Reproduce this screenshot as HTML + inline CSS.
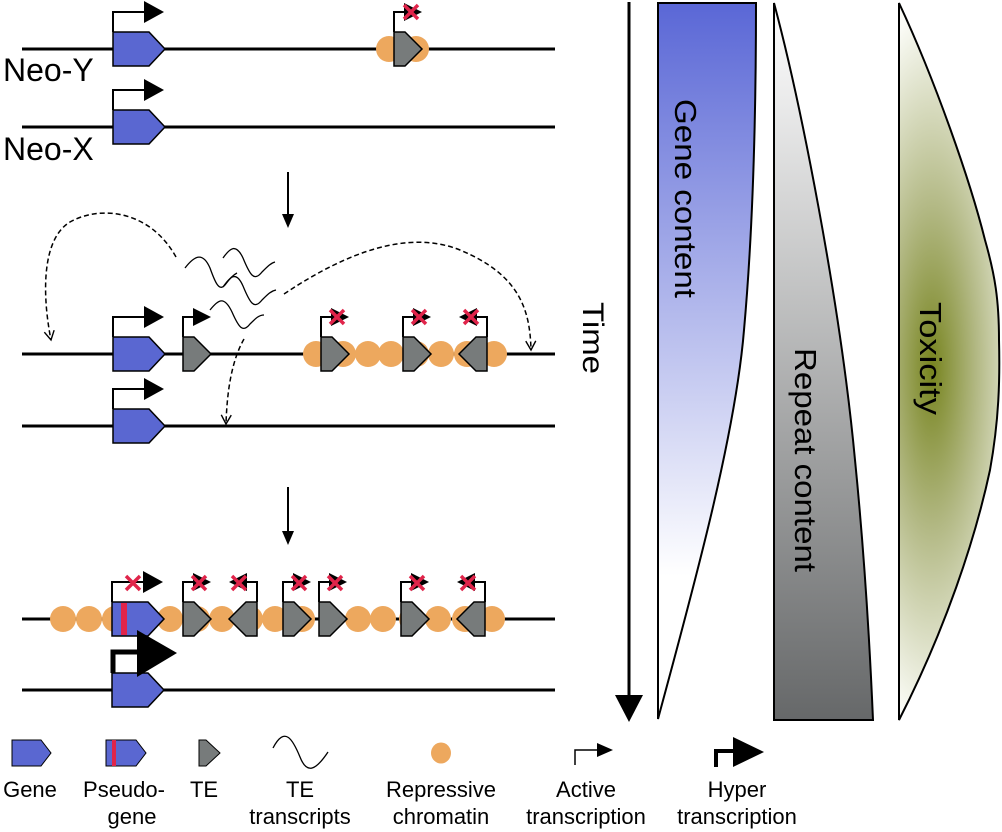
<!DOCTYPE html>
<html><head><meta charset="utf-8"><style>html,body{margin:0;padding:0;background:#fff;}svg{display:block;}text{font-family:"Liberation Sans",sans-serif;}</style></head>
<body>
<svg width="1002" height="832" viewBox="0 0 1002 832" xmlns="http://www.w3.org/2000/svg">
<defs>
<linearGradient id="gb" x1="0" y1="0" x2="0" y2="1"><stop offset="0" stop-color="#5a67d6"/><stop offset="0.8" stop-color="#ffffff"/><stop offset="1" stop-color="#ffffff"/></linearGradient>
<linearGradient id="gr" x1="0" y1="0" x2="0" y2="1"><stop offset="0" stop-color="#ffffff"/><stop offset="1" stop-color="#666869"/></linearGradient>
<radialGradient id="gt" gradientUnits="userSpaceOnUse" cx="932" cy="368" r="100" gradientTransform="translate(932 368) scale(1 3.6) translate(-932 -368)"><stop offset="0" stop-color="#77841f"/><stop offset="0.45" stop-color="#b3b985"/><stop offset="1" stop-color="#fbfcf7"/></radialGradient>
<path id="gene" d="M0,-17 H36 L52,0 L36,17 H0 Z" fill="#5a67d1" stroke="#000" stroke-width="1.5"/>
<path id="te" d="M0,-17 H11 L28,0 L11,17 H0 Z" fill="#777b7b" stroke="#000" stroke-width="1.5"/>
<g id="prom"><path d="M0,-17 V-37 H31" fill="none" stroke="#000" stroke-width="2"/><polygon points="31,-48 51,-37 31,-26" fill="#000"/></g>
<g id="tprom"><path d="M0,-17 V-37 H11" fill="none" stroke="#000" stroke-width="2"/><polygon points="10,-46 28,-37 10,-28" fill="#000"/></g>
<g id="x"><path d="M-7,-7 L7,7 M7,-7 L-7,7" stroke="#e0244a" stroke-width="3.5"/></g>
<circle id="c" r="13" fill="#eda85e"/>
<marker id="ah" markerUnits="userSpaceOnUse" markerWidth="12" markerHeight="12" refX="10" refY="6" orient="auto" viewBox="0 0 12 12"><path d="M1,1 L10,6 L1,11" fill="none" stroke="#000" stroke-width="1.4"/></marker>
</defs>

<!-- Row 1 Neo-Y -->
<line x1="22" y1="49" x2="555" y2="49" stroke="#000" stroke-width="3"/>
<use href="#c" x="389" y="49"/><use href="#c" x="416" y="49"/>
<g transform="translate(113,49)"><use href="#gene"/><use href="#prom"/></g>
<g transform="translate(394,49)"><use href="#te"/><use href="#tprom"/><use href="#x" x="17" y="-37"/></g>
<text x="3" y="81" font-size="32">Neo-Y</text>
<!-- Row 2 Neo-X -->
<line x1="22" y1="127" x2="555" y2="127" stroke="#000" stroke-width="3"/>
<g transform="translate(113,127)"><use href="#gene"/><use href="#prom"/></g>
<text x="3" y="160" font-size="32">Neo-X</text>

<!-- arrow 1 -->
<line x1="288" y1="172" x2="288" y2="218" stroke="#000" stroke-width="2"/>
<polygon points="282,214 294,214 288,228" fill="#000"/>

<!-- Row 3 -->
<line x1="22" y1="354" x2="555" y2="354" stroke="#000" stroke-width="3"/>
<use href="#c" x="316" y="354"/><use href="#c" x="343" y="354"/><use href="#c" x="368" y="354"/><use href="#c" x="391" y="354"/><use href="#c" x="416" y="354"/><use href="#c" x="441" y="354"/><use href="#c" x="467" y="354"/><use href="#c" x="494" y="354"/>
<g transform="translate(113,354)"><use href="#gene"/><use href="#prom"/></g>
<g transform="translate(183,354)"><use href="#te"/><use href="#tprom"/></g>
<g transform="translate(321,354)"><use href="#te"/><use href="#tprom"/><use href="#x" x="16" y="-37"/></g>
<g transform="translate(403,354)"><use href="#te"/><use href="#tprom"/><use href="#x" x="16" y="-37"/></g>
<g transform="translate(487,354) scale(-1,1)"><use href="#te"/><use href="#tprom"/><use href="#x" x="16" y="-37"/></g>
<line x1="22" y1="426" x2="555" y2="426" stroke="#000" stroke-width="3"/>
<g transform="translate(113,426)"><use href="#gene"/><use href="#prom"/></g>

<!-- waves -->
<g fill="none" stroke="#000" stroke-width="1.3">
<path d="M185,268 C195,255 203,252 210,268 C215,282 219,292 225,285 C230,278 233,275 237,273"/>
<path d="M223,258 C230,248 236,243 243,258 C250,275 254,282 262,272 C268,266 271,263 275,262"/>
<path d="M223,287 C230,277 236,270 243,286 C250,303 254,310 262,300 C268,294 271,291 276,290"/>
<path d="M210,310 C218,300 224,295 232,312 C239,328 243,333 250,324 C256,318 259,315 264,315"/>
</g>
<!-- dashed curves -->
<g fill="none" stroke="#000" stroke-width="1.5" stroke-dasharray="5,3">
<path d="M176,257 C150,210 100,205 70,222 C40,240 43,300 51,340" marker-end="url(#ah)"/>
<path d="M284,294 C350,250 410,230 460,250 C520,275 530,310 531,350" marker-end="url(#ah)"/>
<path d="M244,339 C232,360 227,390 226,424" marker-end="url(#ah)"/>
</g>

<!-- arrow 2 -->
<line x1="288" y1="487" x2="288" y2="535" stroke="#000" stroke-width="2"/>
<polygon points="282,531 294,531 288,545" fill="#000"/>

<!-- Row 5 -->
<line x1="22" y1="619" x2="555" y2="619" stroke="#000" stroke-width="3"/>
<use href="#c" x="63" y="619"/><use href="#c" x="89" y="619"/><use href="#c" x="115" y="619"/><use href="#c" x="170" y="619"/><use href="#c" x="197" y="619"/><use href="#c" x="222" y="619"/><use href="#c" x="250" y="619"/><use href="#c" x="275" y="619"/><use href="#c" x="302" y="619"/><use href="#c" x="358" y="619"/><use href="#c" x="383" y="619"/><use href="#c" x="412" y="619"/><use href="#c" x="438" y="619"/><use href="#c" x="465" y="619"/><use href="#c" x="492" y="619"/>
<g transform="translate(112,619)"><use href="#gene"/><rect x="9" y="-16" width="6" height="32" fill="#e0244a"/><use href="#prom"/><use href="#x" x="21" y="-36"/></g>
<g transform="translate(183,619)"><use href="#te"/><use href="#tprom"/><use href="#x" x="16" y="-36"/></g>
<g transform="translate(257,619) scale(-1,1)"><use href="#te"/><use href="#tprom"/><use href="#x" x="18" y="-36"/></g>
<g transform="translate(283,619)"><use href="#te"/><use href="#tprom"/><use href="#x" x="16" y="-36"/></g>
<g transform="translate(319,619)"><use href="#te"/><use href="#tprom"/><use href="#x" x="16" y="-36"/></g>
<g transform="translate(401,619)"><use href="#te"/><use href="#tprom"/><use href="#x" x="16" y="-36"/></g>
<g transform="translate(485,619) scale(-1,1)"><use href="#te"/><use href="#tprom"/><use href="#x" x="17" y="-36"/></g>
<line x1="22" y1="690" x2="555" y2="690" stroke="#000" stroke-width="3"/>
<g transform="translate(112,690)"><use href="#gene"/></g>
<path d="M113,673 V652 H140" fill="none" stroke="#000" stroke-width="5"/>
<polygon points="137,630 177,653 137,677" fill="#000"/>

<!-- Right panel -->
<line x1="629" y1="2" x2="629" y2="700" stroke="#000" stroke-width="3"/>
<polygon points="615,695 643,695 629,722" fill="#000"/>
<text transform="translate(583,302) rotate(90)" font-size="30" textLength="72" lengthAdjust="spacingAndGlyphs">Time</text>

<path d="M658,3 H756 C756,120 753,230 744,330 C735,440 690,600 658,719 Z" fill="url(#gb)" stroke="#000" stroke-width="2"/>
<text transform="translate(675,99) rotate(90)" font-size="31" textLength="199" lengthAdjust="spacingAndGlyphs">Gene content</text>

<path d="M774,3 C800,100 840,300 855,460 C865,560 870,650 873,720 H774 Z" fill="url(#gr)" stroke="#000" stroke-width="2"/>
<text transform="translate(795,348) rotate(90)" font-size="31" textLength="224" lengthAdjust="spacingAndGlyphs">Repeat content</text>

<path d="M899,3 C935,80 970,180 985,240 C995,275 999,300 999,340 C1000,380 999,420 990,470 C975,540 945,630 899,720 Z" fill="url(#gt)" stroke="#000" stroke-width="2"/>
<text transform="translate(920,302) rotate(90)" font-size="31" textLength="113" lengthAdjust="spacingAndGlyphs">Toxicity</text>

<!-- Legend -->
<path d="M12,740 H41 L51,753 L41,766 H12 Z" fill="#5a67d1" stroke="#000" stroke-width="1"/>
<path d="M106,740 H136 L146,753 L136,766 H106 Z" fill="#5a67d1" stroke="#000" stroke-width="1"/>
<rect x="112" y="740" width="4" height="26" fill="#e0244a"/>
<path d="M199,740 H206 L220,753 L206,766 H199 Z" fill="#777b7b" stroke="#000" stroke-width="1"/>
<path d="M273,748 C285,725 293,740 300,757 C307,775 316,770 328,752" fill="none" stroke="#000" stroke-width="1.3"/>
<ellipse cx="441" cy="753" rx="10" ry="10.5" fill="#eda85e"/>
<path d="M575,765 V750 H598" fill="none" stroke="#000" stroke-width="1.5"/>
<polygon points="597,743 613,750 597,757" fill="#000"/>
<path d="M716,767 V751 H735" fill="none" stroke="#000" stroke-width="4"/>
<polygon points="733,737 764,752 733,767" fill="#000"/>

<g font-size="22" text-anchor="middle">
<text x="30" y="797">Gene</text>
<text x="124" y="797">Pseudo-</text><text x="132" y="824">gene</text>
<text x="204" y="797">TE</text>
<text x="300" y="797">TE</text><text x="300" y="824">transcripts</text>
<text x="441" y="797">Repressive</text><text x="441" y="824">chromatin</text>
<text x="586" y="797">Active</text><text x="586" y="824">transcription</text>
<text x="737" y="797">Hyper</text><text x="737" y="824">transcription</text>
</g>
</svg>
</body></html>
